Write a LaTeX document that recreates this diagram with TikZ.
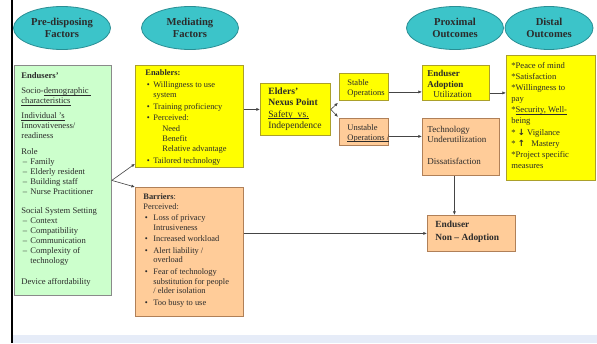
\documentclass[tikz,border=0pt]{standalone}
\usepackage{fontspec}
\setmainfont{Liberation Serif}
\newfontfamily\symfont{DejaVu Sans}
\usetikzlibrary{shapes.geometric,arrows.meta}

\definecolor{tealfill}{HTML}{3CC4C9}
\definecolor{tealline}{HTML}{2A8E94}
\definecolor{greenfill}{HTML}{CCFFCC}
\definecolor{greenline}{HTML}{8A8A8A}
\definecolor{yellowfill}{HTML}{FFFF00}
\definecolor{yellowline}{HTML}{ABA02A}
\definecolor{peachfill}{HTML}{FFCC99}
\definecolor{peachline}{HTML}{B08058}
\definecolor{inktext}{HTML}{2B2B2B}
\definecolor{connector}{HTML}{454545}
\definecolor{bandblue}{HTML}{E6ECF8}

% text block of fixed size: width, height, left pad, top pad, leading, content
\newcommand\bx[6]{\parbox[c][#2pt][t]{#1pt}{\vspace*{#4pt}\leftskip=#3pt\rightskip=0pt plus 1fil\parindent=0pt\baselineskip=#5pt #6\par}}
% list entries with a hanging indent
\newcommand\dsh{\par\hangindent=9pt\hangafter=1\noindent\hbox to 9pt{\hspace{1.5pt}--\hfil}}
\newcommand\bul[1]{\par\vspace{1.6pt}\hangindent=#1\hangafter=1\noindent\hbox to #1{\hspace{1.5pt}\textbullet\hfil}}
\newcommand\gap[1]{\par\vspace{#1pt}}
% underline drawn just below the baseline
\newcommand\ul[1]{\leavevmode\setbox0=\hbox{#1}\rlap{\rule[-1.4pt]{\wd0}{0.45pt}}\box0}
\newcommand\symarrow[1]{\raisebox{-0.3pt}{\symfont\bfseries\fontsize{8.5}{10}\selectfont #1}}

\tikzset{
  heading/.style={ellipse, draw=tealline, fill=tealfill, line width=0.8pt,
    minimum width=97pt, minimum height=43pt, inner sep=0pt, align=center,
    font=\fontsize{10.6}{11.5}\selectfont\bfseries, text=inktext},
  boxbase/.style={rectangle, line width=0.8pt, inner sep=0pt, anchor=north west,
    text=inktext, font=\fontsize{8.5}{10}\selectfont},
  greenbox/.style={boxbase, draw=greenline, fill=greenfill},
  yellowbox/.style={boxbase, draw=yellowline, fill=yellowfill},
  peachbox/.style={boxbase, draw=peachline, fill=peachfill},
  arr/.style={draw=connector, line width=0.6pt, -{Latex[length=3.6pt,width=3pt]}}
}

\begin{document}
\begin{tikzpicture}[x=1pt,y=-1pt]
\useasboundingbox (0,0) rectangle (597,343);
\fill[white] (0,0) rectangle (597,343);
\fill[black] (10.5,0) rectangle (13,343);
\fill[bandblue] (13,335) rectangle (597,343);

% column headings
\node[heading] (pre)  at (62,28)  {Pre-disposing\\Factors};
\node[heading] (med)  at (190,28) {Mediating\\Factors};
\node[heading] (prox) at (455,28) {Proximal\\Outcomes};
\node[heading, minimum width=88pt] (dist) at (549,28) {Distal\\Outcomes};

% pre-disposing factors
\node[greenbox, font=\fontsize{8.6}{10}\selectfont] (endusers) at (14,65) {\bx{97}{230}{7}{7.5}{10}{%
  \textbf{Endusers'}\gap{5}
  Socio-\ul{demographic}\ul{\ }\\\ul{characteristics}\gap{5}
  \ul{Individual}\ul{\ 's}\\Innovativeness/\\readiness\gap{6}
  Role\dsh Family\dsh Elderly resident\dsh Building staff\dsh Nurse Practitioner\gap{9}
  Social System Setting\dsh Context\dsh Compatibility\dsh Communication\dsh Complexity of\\technology\gap{11}
  Device affordability}};

% mediating factors
\node[yellowbox, font=\fontsize{8.4}{10}\selectfont] (enablers) at (135,65) {\bx{108}{102}{10}{4}{10.2}{%
  \textbf{Enablers:}
  \bul{8pt}Willingness to use\\system
  \bul{8pt}Training proficiency
  \bul{8pt}Perceived:\\\hspace*{9pt}Need\\\hspace*{9pt}Benefit\\\hspace*{9pt}Relative advantage
  \bul{8pt}Tailored technology}};

\node[peachbox, font=\fontsize{8.4}{10}\selectfont] (barriers) at (135,187) {\bx{108}{129}{8}{6}{9.8}{%
  \textbf{Barriers}:\\Perceived:
  \bul{10pt}Loss of privacy\\Intrusiveness
  \bul{10pt}Increased workload
  \bul{10pt}Alert liability /\\overload
  \bul{10pt}Fear of technology\\substitution  for people\\/ elder isolation
  \bul{10pt}Too busy to use}};

% nexus point and operations
\node[yellowbox, font=\fontsize{9.6}{11}\selectfont] (nexus) at (260,83) {\bx{70}{52}{8}{4.5}{11.3}{%
  \textbf{Elders'}\\\textbf{Nexus Point}\\\ul{Safety\ \ vs.}\\Independence}};

\node[yellowbox] (stable) at (339,73) {\bx{49}{27}{8}{6}{10}{Stable\\Operations}};
\node[peachbox] (unstable) at (339,118) {\bx{49}{27}{8}{6}{10}{Unstable\\\ul{Operations\ /}}};

% proximal outcomes
\node[yellowbox, font=\fontsize{9}{10}\selectfont] (adopt) at (422,65) {\bx{67}{35}{5}{5}{10.5}{%
  \textbf{Enduser}\\\textbf{Adoption}\\\hspace*{6pt}Utilization}};

\node[peachbox, font=\fontsize{9}{10}\selectfont] (underuse) at (422,118) {\bx{77}{57}{5}{7.5}{10.5}{%
  Technology\\Underutilization\gap{11}Dissatisfaction}};

\node[peachbox, font=\fontsize{9.4}{10}\selectfont] (nonadopt) at (427,215) {\bx{88}{36}{8}{5.5}{13}{%
  \textbf{Enduser}\\\textbf{Non -- Adoption}}};

% distal outcomes
\node[yellowbox, font=\fontsize{8.6}{10}\selectfont] (distal) at (506,55) {\bx{89}{125}{5}{7}{11.1}{%
  *Peace of mind\\{}*Satisfaction\\{}*Willingness to\\pay\\{}*\ul{Security, Well-}\\being\\{}%
  * \symarrow{↓}\ Vigilance\\{}%
  * \symarrow{↑}\ \ \ Mastery\\{}%
  *Project specific\\measures}};

% connectors
\draw[arr] (endusers.east) -- ([yshift=4pt]enablers.south west);
\draw[arr] (endusers.east) -- (barriers.north west);
\draw[arr] (enablers.east |- nexus.west) -- (nexus.west);
\draw[arr] (nexus.east) -- ([shift={(-1pt,-2pt)}]stable.south west);
\draw[arr] (nexus.east) -- ([shift={(-1pt,1pt)}]unstable.north west);
\draw[arr] ([yshift=-5pt]stable.east) -- ([yshift=-5pt]stable.east -| adopt.west);
\draw[arr] ([yshift=-4.5pt]unstable.east) -- ([yshift=-4.5pt]unstable.east -| underuse.west);
\draw[arr] ([yshift=-10pt]adopt.east) -- ([yshift=-10pt]adopt.east -| distal.west);
\draw[arr] ([xshift=-6.5pt]underuse.south) -- ([xshift=-6.5pt]underuse.south |- nonadopt.north);
\draw[arr] (barriers.east |- nonadopt.west) -- (nonadopt.west);
\end{tikzpicture}
\end{document}
